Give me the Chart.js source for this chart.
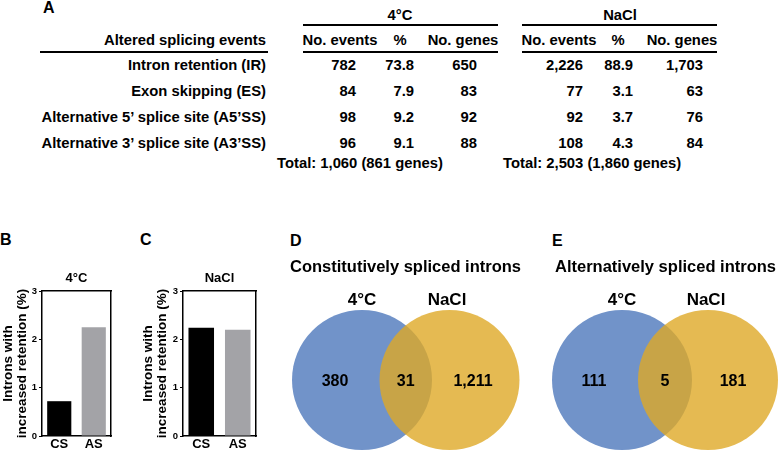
<!DOCTYPE html>
<html><head><meta charset="utf-8">
<script src="https://cdn.jsdelivr.net/npm/chart.js@4.4.0/dist/chart.umd.min.js"></script>
<style>
html,body{margin:0;padding:0;background:#fff;}
body{width:778px;height:451px;position:relative;overflow:hidden;font-family:"Liberation Sans",Arial,Helvetica,sans-serif;font-weight:bold;color:#000;}
.t{position:absolute;white-space:nowrap;font-size:14.8px;line-height:18px;}
.r{transform:translate(-100%,-50%);}
.c{transform:translate(-50%,-50%);}
.l{transform:translate(0,-50%);}
.rule{position:absolute;height:2px;background:#000;}
.p{font-size:16px;}
canvas{position:absolute;}
</style></head><body>
<canvas id="chartB" width="125" height="186" style="left:0px;top:265px"></canvas>
<canvas id="chartC" width="125" height="186" style="left:140px;top:265px"></canvas>
<canvas id="vennD" width="240" height="201" style="left:290px;top:250px"></canvas>
<canvas id="vennE" width="228" height="201" style="left:550px;top:250px"></canvas>
<script>
// ---------- data ----------
const spliceEvents = ['Intron retention (IR)', 'Exon skipping (ES)', 'Alternative 5\u2019 splice site (A5\u2019SS)', 'Alternative 3\u2019 splice site (A3\u2019SS)'];
const conditions = ['4\u00B0C', 'NaCl'];
const tableHeaders = ['No. events', '%', 'No. genes'];
const coldEvents = [782, 84, 98, 96];
const coldPct = [73.8, 7.9, 9.2, 9.1];
const coldGenes = [650, 83, 92, 88];
const naclEvents = [2226, 77, 92, 108];
const naclPct = [88.9, 3.1, 3.7, 4.3];
const naclGenes = [1703, 63, 76, 84];
const coldTotal = [1060, 861];
const naclTotal = [2503, 1860];

const intronClasses = ['CS', 'AS'];
const coldRetention = [0.72, 2.25];
const naclRetention = [2.24, 2.20];
const retentionTicks = [0, 1, 2, 3];

const csVenn = [380, 31, 1211];   // 4°C only, both, NaCl only
const asVenn = [111, 5, 181];

// ---------- layout / style ----------
const FONT = '"Liberation Sans", Arial, Helvetica, sans-serif';
const fmt = n => n.toLocaleString('en-US');

function txt(x, y, s, cls, extra) {
  const d = document.createElement('div');
  d.className = 't ' + cls + (extra ? ' ' + extra : '');
  d.style.left = x + 'px'; d.style.top = y + 'px';
  d.textContent = s;
  document.body.appendChild(d);
}
function rule(x1, x2, y) {
  const d = document.createElement('div');
  d.className = 'rule';
  d.style.left = x1 + 'px'; d.style.width = (x2 - x1) + 'px'; d.style.top = (y - 1) + 'px';
  document.body.appendChild(d);
}

// panel letters
txt(43, 8, 'A', 'l', 'p');
txt(0, 240, 'B', 'l', 'p');
txt(140, 240, 'C', 'l', 'p');
txt(290, 241, 'D', 'l', 'p');
txt(552, 241, 'E', 'l', 'p');

// ---------- table (panel A) ----------
const T = {
  labelRight: 266, headerY: 40, groupY: 15, rowY: [65, 91, 117, 143], totalY: 163,
  groups: [
    {x1: 303, x2: 498, center: 400, headCenters: [340, 400, 463], right: [356, 414, 477], totalX: 277,
     cols: [coldEvents, coldPct, coldGenes], total: coldTotal},
    {x1: 522, x2: 717, center: 620, headCenters: [559, 618, 682], right: [583, 633, 703], totalX: 503,
     cols: [naclEvents, naclPct, naclGenes], total: naclTotal}
  ]
};
txt(T.labelRight, T.headerY, 'Altered splicing events', 'r');
rule(40, 268, 52);
spliceEvents.forEach((e, i) => txt(T.labelRight, T.rowY[i], e, 'r'));
T.groups.forEach((g, gi) => {
  txt(g.center, T.groupY, conditions[gi], 'c');
  rule(g.x1, g.x2, 25);
  rule(g.x1, g.x2, 52);
  tableHeaders.forEach((h, hi) => txt(g.headCenters[hi], T.headerY, h, 'c'));
  g.cols.forEach((col, ci) => col.forEach((v, ri) => {
    txt(g.right[ci], T.rowY[ri], ci === 1 ? v.toFixed(1) : fmt(v), 'r');
  }));
  txt(g.totalX, T.totalY, 'Total: ' + fmt(g.total[0]) + ' (' + fmt(g.total[1]) + ' genes)', 'l');
});

// ---------- bar charts (panels B, C) ----------
function barChart(id, title, values, axisWidth, padRight) {
  const f = (size, lh) => ({family: FONT, size: size, weight: 'bold', lineHeight: lh || 1.2});
  return new Chart(document.getElementById(id), {
    type: 'bar',
    data: {labels: intronClasses, datasets: [{
      data: values, backgroundColor: ['#000000', '#a3a3a7'], borderWidth: 0,
      categoryPercentage: 0.7, barPercentage: 1
    }]},
    options: {
      responsive: false, animation: false, devicePixelRatio: 1, events: [],
      layout: {padding: {left: 0, right: padRight, top: 0, bottom: 0}},
      plugins: {legend: {display: false}, tooltip: {enabled: false}},
      scales: {
        x: {
          grid: {display: false, drawTicks: false},
          border: {display: true, color: '#000', width: 1.5},
          ticks: {color: '#000', font: f(13), padding: 1},
          afterFit: s => { s.height = 15; }
        },
        y: {
          min: retentionTicks[0], max: retentionTicks[retentionTicks.length - 1],
          afterBuildTicks: s => { s.ticks = retentionTicks.map(v => ({value: v})); },
          ticks: {color: '#000', font: f(9.5), padding: 2},
          grid: {drawOnChartArea: false, drawTicks: true, tickLength: 3, color: '#000', lineWidth: 1},
          border: {display: true, color: '#000', width: 1.5},
          title: {display: true, text: ['Introns with', 'increased retention (%)'], color: '#000',
                  font: f(13.5, 1.07), padding: {top: 1, bottom: 0}},
          afterFit: s => { s.width = axisWidth; }
        },
        x2: {
          position: 'top', grid: {display: false, drawTicks: false}, ticks: {display: false},
          border: {display: true, color: '#000', width: 1.5},
          title: {display: true, text: title, color: '#000', font: f(13), padding: {top: 5.2, bottom: 0}},
          afterFit: s => { s.height = 26; }
        },
        y2: {
          position: 'right', type: 'linear', grid: {display: false, drawTicks: false}, ticks: {display: false},
          border: {display: true, color: '#000', width: 1.5},
          afterFit: s => { s.width = 0; }
        }
      }
    }
  });
}
barChart('chartB', conditions[0], coldRetention, 42, 14);
barChart('chartC', conditions[1], naclRetention, 43, 9);

// ---------- Venn diagrams (panels D, E) ----------
const vennText = {
  id: 'vennText',
  afterDatasetsDraw(chart, args, opts) {
    const ctx = chart.ctx, xs = chart.scales.x, ys = chart.scales.y;
    ctx.save();
    ctx.fillStyle = '#000'; ctx.textAlign = 'center'; ctx.textBaseline = 'middle';
    opts.items.forEach(it => {
      ctx.font = 'bold ' + it.size + 'px ' + FONT;
      ctx.fillText(it.text, xs.getPixelForValue(it.x), ys.getPixelForValue(it.y));
    });
    ctx.restore();
  }
};

function venn(id, title, counts, g) {
  const R = 70;
  const items = [
    {text: conditions[0], x: g.cold, y: g.labelY, size: 17},
    {text: conditions[1], x: g.nacl + g.naclLabelDx, y: g.labelY, size: 17},
    {text: fmt(counts[0]), x: g.cold + g.leftDx, y: g.numY, size: 16},
    {text: fmt(counts[1]), x: (g.cold + g.nacl) / 2, y: g.numY, size: 16},
    {text: fmt(counts[2]), x: g.nacl + g.rightDx, y: g.numY, size: 16}
  ];
  return new Chart(document.getElementById(id), {
    type: 'scatter',
    data: {datasets: [
      {data: [{x: g.nacl, y: g.cy}], pointRadius: R, pointHoverRadius: R, borderWidth: 0,
       backgroundColor: 'rgba(223,169,39,0.8)', clip: false},
      {data: [{x: g.cold, y: g.cy}], pointRadius: R, pointHoverRadius: R, borderWidth: 0,
       backgroundColor: '#7193c9', clip: false}
    ]},
    options: {
      responsive: false, animation: false, devicePixelRatio: 1, events: [],
      layout: {autoPadding: false, padding: {left: g.padLeft, right: 0, top: 0, bottom: 0}},
      plugins: {
        legend: {display: false}, tooltip: {enabled: false},
        title: {display: true, text: title, align: 'start', color: '#000',
                font: {family: FONT, size: 16.5, weight: 'bold', lineHeight: 1.2}, padding: {top: 7.2, bottom: 0}},
        vennText: {items: items}
      },
      scales: {
        x: {type: 'linear', display: false, min: 0, max: g.w},
        y: {type: 'linear', display: false, min: 0, max: 174, reverse: true}
      }
    },
    plugins: [vennText]
  });
}
venn('vennD', 'Constitutively spliced introns', csVenn,
     {w: 240, padLeft: 0, cold: 72, nacl: 159.5, cy: 103, labelY: 23, numY: 105, leftDx: -27, rightDx: 23.5, naclLabelDx: -2.5});
venn('vennE', 'Alternatively spliced introns', asVenn,
     {w: 223, padLeft: 5, cold: 67, nacl: 153, cy: 103, labelY: 23, numY: 105, leftDx: -28, rightDx: 25, naclLabelDx: -2});
</script>
</body></html>
